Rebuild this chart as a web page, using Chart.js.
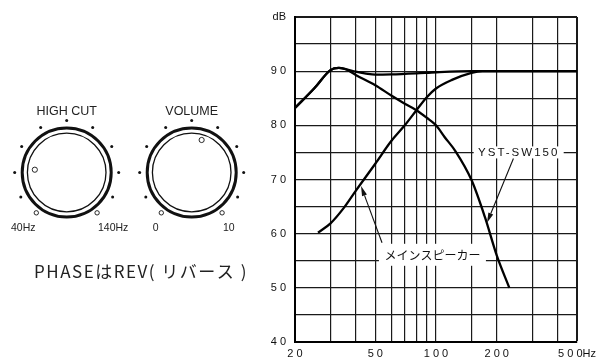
<!DOCTYPE html>
<html>
<head>
<meta charset="utf-8">
<script src="https://cdn.jsdelivr.net/npm/chart.js@4.4.0/dist/chart.umd.min.js"></script>
<style>
html, body { margin: 0; padding: 0; background: #fff; }
#wrap { width: 601px; height: 361px; }
</style>
</head>
<body>
<div id="wrap"><canvas id="chart" width="601" height="361"></canvas></div>
<script>
// frequency response (Hz / dB)
const freqSum = [20, 25, 30, 33, 36, 40, 45, 50, 60, 80, 100, 150, 200, 500];
const dbSum = [83.2, 86.9, 90.2, 90.6, 90.35, 89.9, 89.55, 89.35, 89.4, 89.6, 89.8, 90.0, 90.0, 90.0];

const freqSub = [20, 25, 30, 33, 36, 40, 50, 60, 70, 80, 90, 100, 110, 125, 150, 175, 200, 231];
const dbSub = [83.2, 86.9, 90.2, 90.6, 90.3, 89.3, 87.4, 85.5, 84.0, 82.8, 81.4, 80.0, 77.9, 75.2, 69.9, 63.0, 56.0, 50.0];

const freqMain = [26, 30, 35, 40, 50, 60, 70, 80, 90, 100, 120, 150, 170, 200, 500];
const dbMain = [60.2, 61.9, 64.8, 67.9, 72.9, 77.1, 80.0, 82.8, 85.2, 86.8, 88.4, 89.7, 90.0, 90.0, 90.0];

const xGridLines = [20, 30, 40, 50, 60, 70, 80, 90, 100, 150, 200, 300, 400, 500];
const xLabels = [20, 50, 100, 200, 500];
const yLabels = [40, 50, 60, 70, 80, 90];

const spaced = v => String(v).split('').join(' ');
const toPoints = (xs, ys) => xs.map((x, i) => ({ x: x, y: ys[i] }));

const lineStyle = {
    borderColor: '#000',
    borderWidth: 2.3,
    pointRadius: 0,
    fill: false,
    cubicInterpolationMode: 'monotone',
};

function arrow(ctx, x1, y1, x2, y2) {
    const a = Math.atan2(y2 - y1, x2 - x1);
    const len = 10, half = 2.6;
    const bx = x2 - len * Math.cos(a), by = y2 - len * Math.sin(a);
    ctx.beginPath();
    ctx.moveTo(x1, y1);
    ctx.lineTo(bx, by);
    ctx.lineWidth = 1.1;
    ctx.stroke();
    ctx.beginPath();
    ctx.moveTo(x2, y2);
    ctx.lineTo(bx + half * Math.sin(a), by - half * Math.cos(a));
    ctx.lineTo(bx - half * Math.sin(a), by + half * Math.cos(a));
    ctx.closePath();
    ctx.fill();
}

function labelBox(ctx, text, cx, cy, w, h, font, spacing) {
    ctx.fillStyle = '#fff';
    ctx.fillRect(cx - w / 2, cy - h / 2, w, h);
    ctx.fillStyle = '#111';
    ctx.font = font;
    ctx.letterSpacing = spacing;
    ctx.textAlign = 'center';
    ctx.textBaseline = 'middle';
    ctx.fillText(text, cx, cy + 0.5);
    ctx.letterSpacing = '0px';
}

function knob(ctx, cx, cy, pointerAngle, pointerR) {
    const at = (r, deg) => [cx + r * Math.sin(deg * Math.PI / 180), cy - r * Math.cos(deg * Math.PI / 180)];
    ctx.strokeStyle = '#111';
    ctx.fillStyle = '#111';
    ctx.lineWidth = 3;
    ctx.beginPath(); ctx.arc(cx, cy, 44.5, 0, Math.PI * 2); ctx.stroke();
    ctx.lineWidth = 1.3;
    ctx.beginPath(); ctx.arc(cx, cy, 39.3, 0, Math.PI * 2); ctx.stroke();
    [-118, -90, -60, -30, 0, 30, 60, 90, 118].forEach(a => {
        const [x, y] = at(52, a);
        ctx.beginPath(); ctx.arc(x, y, 1.5, 0, Math.PI * 2); ctx.fill();
    });
    ctx.lineWidth = 0.9;
    [-143, 143].forEach(a => {
        const [x, y] = at(50.5, a);
        ctx.beginPath(); ctx.arc(x, y, 2.2, 0, Math.PI * 2); ctx.stroke();
    });
    const [px, py] = at(pointerR, pointerAngle);
    ctx.beginPath(); ctx.arc(px, py, 2.6, 0, Math.PI * 2); ctx.stroke();
}

const decor = {
    id: 'decor',
    afterDraw(chart) {
        const { ctx, scales: { x, y } } = chart;
        const px = f => x.getPixelForValue(f);
        const py = d => y.getPixelForValue(d);
        ctx.save();

        // callouts
        ctx.strokeStyle = '#111';
        labelBox(ctx, 'YST-SW150', px(257), py(75), 90, 12, '11.5px "Liberation Sans"', '2px');
        ctx.fillStyle = '#111';
        arrow(ctx, px(242), py(75) + 6, px(179), py(62.0));

        labelBox(ctx, 'メインスピーカー', px(96), py(56.1), 107, 22, '12px "Noto Sans CJK JP"', '0px');
        ctx.fillStyle = '#111';
        arrow(ctx, px(54), py(56.1) - 12, px(42.5), py(68.8));

        // knobs
        knob(ctx, 66.7, 172.5, -85, 32);
        knob(ctx, 191.7, 172.5, 17, 34);

        ctx.fillStyle = '#222';
        ctx.textBaseline = 'middle';
        ctx.textAlign = 'center';
        ctx.font = '12.5px "Liberation Sans"';
        ctx.fillText('HIGH CUT', 66.7, 111.5);
        ctx.fillText('VOLUME', 191.7, 111.5);

        ctx.font = '10.5px "Liberation Sans"';
        ctx.textAlign = 'right';
        ctx.fillText('40Hz', 35.5, 228);
        ctx.fillText('0', 158.5, 228);
        ctx.textAlign = 'left';
        ctx.fillText('140Hz', 98, 228);
        ctx.fillText('10', 223, 228);

        ctx.textAlign = 'center';
        ctx.font = '17px "Noto Sans CJK JP"';
        ctx.letterSpacing = '1.5px';
        ctx.fillText('PHASEはREV( リバース )', 141, 272);
        ctx.restore();
    }
};

new Chart(document.getElementById('chart').getContext('2d'), {
    type: 'line',
    data: {
        datasets: [
            { label: 'SUM', data: toPoints(freqSum, dbSum), ...lineStyle },
            { label: 'YST-SW150', data: toPoints(freqSub, dbSub), ...lineStyle },
            { label: 'メインスピーカー', data: toPoints(freqMain, dbMain), ...lineStyle },
        ],
    },
    options: {
        responsive: false,
        animation: false,
        layout: { padding: { left: 0, right: 24, top: 17, bottom: 0 } },
        plugins: { legend: { display: false }, tooltip: { enabled: false } },
        scales: {
            x: {
                type: 'logarithmic',
                min: 20,
                max: 500,
                afterBuildTicks: s => { s.ticks = xGridLines.map(v => ({ value: v })); },
                afterFit: s => { s.height = 19; },
                grid: {
                    color: '#1a1a1a',
                    lineWidth: c => (c.tick && c.tick.value === 500 ? 2 : 1.2),
                    drawTicks: false,
                },
                border: { color: '#000', width: 2 },
                ticks: {
                    autoSkip: false,
                    maxRotation: 0,
                    padding: 5,
                    color: '#111',
                    font: { family: 'Liberation Sans', size: 11 },
                    callback: v => (xLabels.includes(v) ? spaced(v) + (v === 500 ? 'Hz' : '') : ''),
                },
            },
            y: {
                min: 40,
                max: 100,
                afterFit: s => { s.width = 295; },
                grid: {
                    color: '#1a1a1a',
                    lineWidth: c => (c.tick && c.tick.value === 100 ? 2 : 1.2),
                    drawTicks: false,
                },
                border: { color: '#000', width: 2 },
                ticks: {
                    stepSize: 5,
                    padding: 9,
                    color: '#111',
                    font: { family: 'Liberation Sans', size: 11 },
                    callback: v => (v === 100 ? 'dB' : yLabels.includes(v) ? spaced(v) : ''),
                },
            },
        },
    },
    plugins: [decor],
});
</script>
</body>
</html>
